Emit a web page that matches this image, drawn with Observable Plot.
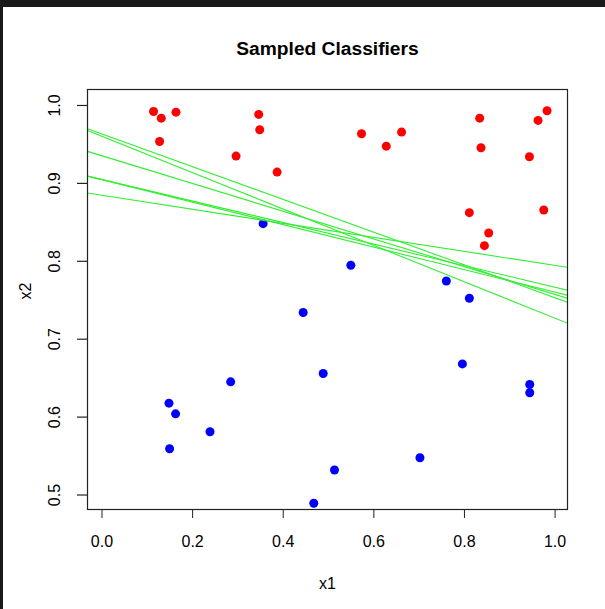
<!DOCTYPE html>
<html>
<head>
<meta charset="utf-8">
<script src="https://cdn.jsdelivr.net/npm/d3@7"></script>
<script src="https://cdn.jsdelivr.net/npm/@observablehq/plot@0.6"></script>
<style>
  html, body { margin: 0; padding: 0; background: #1a1a1a; width: 605px; height: 609px; overflow: hidden; }
  #chart { position: absolute; left: 3px; top: 7px; width: 602px; height: 602px; background: #ffffff; }
</style>
</head>
<body>
<div id="chart"></div>
<script>
const title = "Sampled Classifiers";
const xLabel = "x1";
const yLabel = "x2";
const xTicks = [0, 0.2, 0.4, 0.6, 0.8, 1.0];
const yTicks = [0.5, 0.6, 0.7, 0.8, 0.9, 1.0];
const xDomain = [-0.032, 1.0274];
const yDomain = [0.4814, 1.0205];

// class 1 (red)
const redX = [0.1138, 0.1308, 0.1633, 0.1271, 0.3459, 0.3481, 0.2959, 0.3865, 0.5728, 0.6274,
              0.6612, 0.8336, 0.8365, 0.9434, 0.9624, 0.9823, 0.8108, 0.9750, 0.8535, 0.8440];
const redY = [0.9923, 0.9837, 0.9914, 0.9538, 0.9885, 0.9688, 0.9350, 0.9145, 0.9637, 0.9478,
              0.9658, 0.9837, 0.9458, 0.9342, 0.9808, 0.9932, 0.8624, 0.8658, 0.8363, 0.8201];
// class 0 (blue)
const blueX = [0.3556, 0.5492, 0.7600, 0.8108, 0.4440, 0.4882, 0.2840, 0.1478, 0.1624, 0.2384,
               0.1492, 0.5131, 0.4674, 0.7017, 0.7954, 0.9441, 0.9441];
const blueY = [0.8483, 0.7949, 0.7747, 0.7526, 0.7342, 0.6560, 0.6453, 0.6179, 0.6042, 0.5812,
               0.5594, 0.5321, 0.4894, 0.5478, 0.6683, 0.6419, 0.6312];

// sampled decision boundaries: x2 = intercept + slope * x1
const intercepts = [0.9635, 0.9605, 0.9354, 0.9049, 0.9047, 0.8847];
const slopes = [-0.2103, -0.2336, -0.1780, -0.1382, -0.1443, -0.0900];

const red = redX.map((x, i) => ({x, y: redY[i]}));
const blue = blueX.map((x, i) => ({x, y: blueY[i]}));
const lineRows = intercepts.flatMap((a, i) =>
  xDomain.map(x => ({id: i, x, y: a + slopes[i] * x})));

const chart = Plot.plot({
  width: 602,
  height: 602,
  marginLeft: 84,
  marginRight: 38,
  marginTop: 82,
  marginBottom: 100,
  x: {domain: xDomain},
  y: {domain: yDomain},
  style: {fontFamily: "'Liberation Sans', Arial, Helvetica, sans-serif", background: "white", color: "black", overflow: "visible"},
  marks: [
    Plot.dot(red, {x: "x", y: "y", r: 4.5, fill: "#ff0000", stroke: "none"}),
    Plot.dot(blue, {x: "x", y: "y", r: 4.5, fill: "#0000ff", stroke: "none"}),
    Plot.line(lineRows, {x: "x", y: "y", z: "id", stroke: "#33ee33", strokeWidth: 1.1, clip: true}),
    Plot.frame({stroke: "#222", strokeWidth: 1.2}),
    Plot.axisX({ticks: xTicks, tickSize: 9, tickPadding: 17, fontSize: 16, tickFormat: d3.format(".1f"), label: null, stroke: "#222"}),
    // y tick marks (outside the box, like R)
    Plot.ruleY(yTicks, {y: d => d, x1: xDomain[0], x2: xDomain[0], insetLeft: -10, stroke: "#222", strokeWidth: 1.2}),
    // y tick labels, parallel to the axis
    Plot.axisY({ticks: yTicks, tickSize: 0, tickPadding: 33, fontSize: 16, rotate: -90, textAnchor: "middle", tickFormat: d3.format(".1f"), label: null}),
    Plot.text([title], {frameAnchor: "top", lineAnchor: "middle", dy: -41, fontSize: 19.2, fontWeight: "bold", fill: "black"}),
    Plot.text([xLabel], {frameAnchor: "bottom", lineAnchor: "middle", dy: 74, fontSize: 16, fill: "black"}),
    Plot.text([yLabel], {frameAnchor: "left", lineAnchor: "middle", dx: -62, rotate: -90, fontSize: 16, fill: "black"})
  ]
});
document.getElementById("chart").appendChild(chart);
</script>
</body>
</html>
